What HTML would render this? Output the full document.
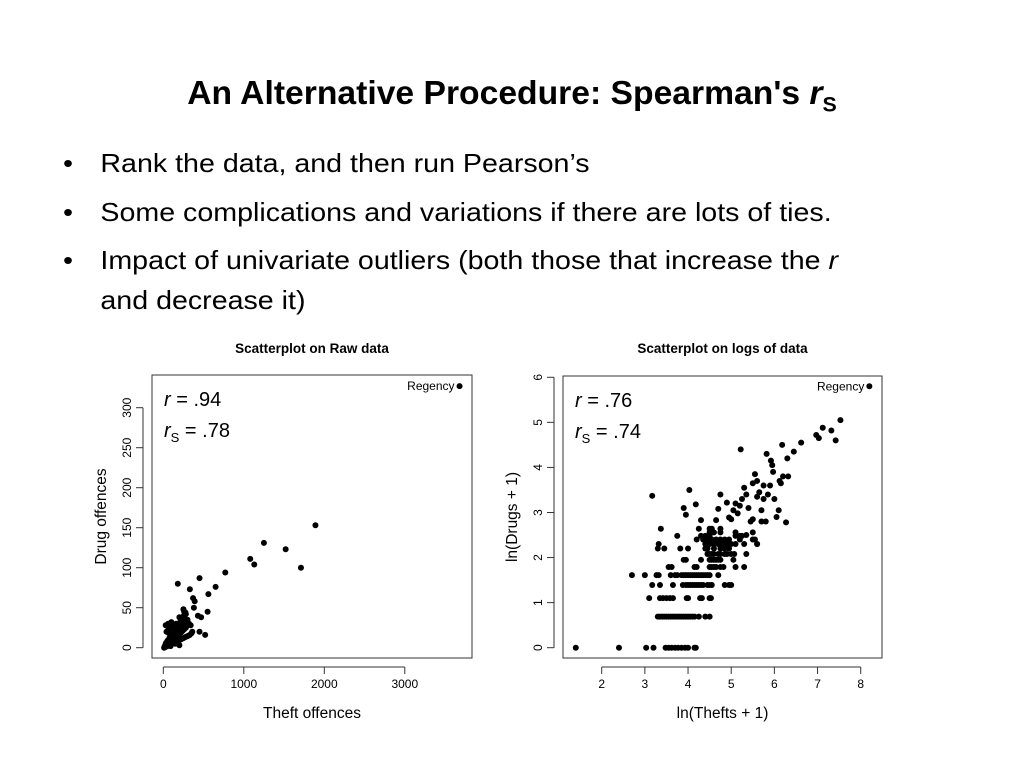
<!DOCTYPE html>
<html><head><meta charset="utf-8"><style>
body{margin:0;width:1024px;height:768px;background:#fff;overflow:hidden;font-family:"Liberation Sans",sans-serif}
#title{position:absolute;top:74px;left:0;width:1024px;text-align:center;font-weight:bold;font-size:33px;transform:scaleX(1.02);}
.b{position:absolute;left:63px;font-size:26px;transform-origin:left;transform:scaleX(1.1);white-space:nowrap}
.b span.d{display:inline-block;width:34px}
svg{position:absolute;left:0;top:0}
</style></head><body>
<div id="title">An Alternative Procedure: Spearman's <i>r</i><sub style="font-size:21px">S</sub></div>
<div class="b" style="top:148px"><span class="d">•</span>Rank the data, and then run Pearson’s</div>
<div class="b" style="top:197px"><span class="d">•</span>Some complications and variations if there are lots of ties.</div>
<div class="b" style="top:245px"><span class="d">•</span>Impact of univariate outliers (both those that increase the <i>r</i></div>
<div class="b" style="top:285px"><span class="d"></span>and decrease it)</div>
<svg id="s" width="1024" height="768"></svg>
<script>
const rawX=[3680,180,450,330,370,390,380,650,560,550,770,1080,1130,1250,1520,1710,1890,520,450,430,470,
20,30,40,50,60,70,80,90,100,110,120,130,140,150,160,170,180,190,200,210,220,230,240,250,260,270,280,290,300,
15,25,35,45,55,65,75,85,95,105,115,125,135,145,155,165,175,185,195,205,215,225,235,245,255,265,275,300,320,340,
10,30,50,70,90,110,130,150,170,190,210,230,250,270,290,310,330,350,360,250,260,280,200,60,100,
40,80,120,160,60,100,140,30,70,150,200,90];
const rawY=[327,80,87,73,62,58,50,76,67,45,94,111,104,131,123,100,153,16,20,40,38,
2,5,3,8,4,10,6,12,9,14,7,16,11,18,13,20,15,22,17,24,19,26,21,28,23,30,25,27,33,
1,3,6,2,9,5,12,7,15,10,18,12,22,14,25,16,28,19,30,22,34,25,36,28,40,31,44,35,30,28,
0,1,2,3,4,5,6,7,8,9,10,11,12,13,14,15,16,18,20,48,45,42,38,30,32,
20,25,15,30,22,28,10,28,18,5,3,2];
const rawXTicks=[0,1000,2000,3000];
const rawYTicks=[0,50,100,150,200,250,300];
const logX=[8.2,1.4,2.4,3.03,3.2,3.48,3.55,3.62,3.7,3.77,3.85,3.93,4.0,4.15,4.18,
3.3,3.35,3.4,3.45,3.5,3.55,3.6,3.65,3.7,3.75,3.8,3.85,3.9,3.95,4.0,4.05,4.1,4.15,4.25,4.4,4.5,
3.1,3.35,3.42,3.5,3.58,3.65,3.97,4.0,4.28,4.32,4.5,4.53,
3.17,3.35,3.65,3.88,3.95,4.0,4.05,4.1,4.15,4.2,4.25,4.3,4.35,4.45,4.5,4.55,4.85,4.95,5.0,
2.7,3.0,3.27,3.32,3.6,3.7,3.75,3.85,3.9,3.95,4.0,4.05,4.1,4.15,4.2,4.25,4.3,4.35,4.4,4.45,4.5,4.7,
3.55,3.62,4.15,4.2,4.5,4.55,4.6,4.65,4.75,4.82,5.1,5.3,
3.9,3.95,4.3,4.5,4.55,4.6,4.65,4.7,4.75,5.05,
4.45,4.5,4.55,4.6,4.7,4.75,4.85,4.9,5.0,5.07,5.35,
3.3,3.45,3.82,4.0,4.4,4.45,4.6,4.75,4.85,4.95,
3.32,4.4,4.5,4.6,4.7,4.8,4.9,5.0,5.1,5.3,5.6,
4.2,4.35,4.45,4.55,4.65,4.75,4.85,4.95,5.2,5.5,5.55,
3.75,4.3,4.4,4.5,5.1,5.2,5.25,
4.5,4.6,4.75,5.1,5.5,
3.37,4.25,4.5,4.55,4.75,
3.17,4.03,4.18,3.9,3.95,4.3,4.65,4.7,4.75,4.9,4.95,5.0,5.05,5.1,5.15,5.2,5.25,5.3,5.35,5.4,5.45,5.5,5.55,5.6,5.65,5.7,5.75,5.8,5.85,5.9,5.92,5.95,5.97,6.0,6.05,6.1,6.12,6.15,6.18,6.2,6.27,6.3,6.32,6.45,6.62,5.22,5.82,6.97,7.03,7.12,7.32,7.42,7.53,5.5,5.6,5.35,5.6,5.7,5.75];
const logY=[5.8,0,0,0,0,0,0,0,0,0,0,0,0,0,0,
0.69,0.69,0.69,0.69,0.69,0.69,0.69,0.69,0.69,0.69,0.69,0.69,0.69,0.69,0.69,0.69,0.69,0.69,0.69,0.69,0.69,
1.1,1.1,1.1,1.1,1.1,1.1,1.1,1.1,1.1,1.1,1.1,1.1,
1.39,1.39,1.39,1.39,1.39,1.39,1.39,1.39,1.39,1.39,1.39,1.39,1.39,1.39,1.39,1.39,1.39,1.39,1.39,
1.61,1.61,1.61,1.61,1.61,1.61,1.61,1.61,1.61,1.61,1.61,1.61,1.61,1.61,1.61,1.61,1.61,1.61,1.61,1.61,1.61,1.61,
1.79,1.79,1.79,1.79,1.79,1.79,1.79,1.79,1.79,1.79,1.79,1.79,
1.95,1.95,1.95,1.95,1.95,1.95,1.95,1.95,1.95,1.95,
2.08,2.08,2.08,2.08,2.08,2.08,2.08,2.08,2.08,2.08,2.08,
2.2,2.2,2.2,2.2,2.2,2.2,2.2,2.2,2.2,2.2,
2.3,2.3,2.3,2.3,2.3,2.3,2.3,2.3,2.3,2.3,2.3,
2.4,2.4,2.4,2.4,2.4,2.4,2.4,2.4,2.4,2.4,2.4,
2.48,2.48,2.48,2.48,2.48,2.48,2.48,
2.56,2.56,2.56,2.56,2.56,
2.64,2.64,2.64,2.64,2.64,
3.37,3.5,3.18,3.1,2.95,2.83,2.83,3.08,3.4,3.22,2.89,2.85,3.05,3.2,2.98,3.15,3.3,3.55,3.4,3.1,2.8,2.85,3.85,3.7,3.45,3.05,3.6,2.8,3.4,3.6,4.15,4.05,3.9,3.3,2.9,3.05,3.7,3.65,4.5,3.8,2.78,4.2,3.8,4.35,4.55,4.4,4.3,4.72,4.65,4.88,4.82,4.6,5.05,3.65,3.35,2.5,2.3,2.8,3.3];
const logXTicks=[2,3,4,5,6,7,8];
const logYTicks=[0,1,2,3,4,5,6];
const NS='http://www.w3.org/2000/svg', svg=document.getElementById('s');
function mk(t,a,txt){const e=document.createElementNS(NS,t);for(const k in a)e.setAttribute(k,a[k]);if(txt!=null)e.textContent=txt;svg.appendChild(e);return e;}
function plot(o){
 const sx=v=>o.x0+(v-o.xa)*o.kx, sy=v=>o.y0-(v-o.ya)*o.ky;
 let e=mk('text',{x:(o.bx1+o.bx2)/2,y:353,'text-anchor':'middle','font-size':13.5,'font-weight':'bold'},o.title);
 
 
 e=mk('rect',{x:o.bx1,y:o.by1,width:o.bx2-o.bx1,height:o.by2-o.by1,fill:'none',stroke:'#333','stroke-width':1});
 
 
 mk('line',{x1:sx(o.xt[0]),x2:sx(o.xt[o.xt.length-1]),y1:o.by2+9,y2:o.by2+9,stroke:'#333'});
 o.xt.forEach(t=>{mk('line',{x1:sx(t),x2:sx(t),y1:o.by2+9,y2:o.by2+16,stroke:'#333'});
  e=mk('text',{x:sx(t),y:o.by2+30,'text-anchor':'middle','font-size':12},t);
  
  });
 mk('line',{x1:o.bx1-9,x2:o.bx1-9,y1:sy(o.yt[0]),y2:sy(o.yt[o.yt.length-1]),stroke:'#333'});
 o.yt.forEach(t=>{mk('line',{x1:o.bx1-9,x2:o.bx1-16,y1:sy(t),y2:sy(t),stroke:'#333'});
  const X=o.bx1-21,Y=sy(t);
  e=mk('text',{x:X,y:Y,'text-anchor':'middle','font-size':12,transform:`rotate(-90 ${X} ${Y})`},t);
  
  });
 e=mk('text',{x:(o.bx1+o.bx2)/2,y:o.by2+60,'text-anchor':'middle','font-size':15.5},o.xl);
 
 
 const X=o.bx1-46,Y=(o.by1+o.by2)/2;
 e=mk('text',{x:X,y:Y,'text-anchor':'middle','font-size':15.5,transform:`rotate(-90 ${X} ${Y})`},o.yl);
 
 
 o.px.forEach((v,i)=>{e=mk('circle',{cx:sx(v),cy:sy(o.py[i]),r:3,fill:'#000'});
  
  });
 e=mk('text',{x:sx(o.px[0])-5,y:sy(o.py[0])+4,'text-anchor':'end','font-size':12},'Regency');
 
 
 e=mk('text',{x:o.bx1+12,y:o.by1+31,'font-size':20});
 e.innerHTML='<tspan font-style="italic">r</tspan> = '+o.r;
 
 
 e=mk('text',{x:o.bx1+12,y:o.by1+62,'font-size':20});
 e.innerHTML='<tspan font-style="italic">r</tspan><tspan font-size="13" dy="5">S</tspan><tspan dy="-5"> = '+o.rs+'</tspan>';
 
 
}
plot({id:'raw',title:'Scatterplot on Raw data',bx1:152,bx2:472,by1:375,by2:658,x0:163.3,xa:0,kx:0.0805,y0:647.7,ya:0,ky:0.8,
 xt:rawXTicks,yt:rawYTicks,xl:'Theft offences',yl:'Drug offences',px:rawX,py:rawY,r:'.94',rs:'.78'});
plot({id:'log',title:'Scatterplot on logs of data',bx1:563,bx2:882,by1:376,by2:658,x0:601.7,xa:2,kx:43.17,y0:647.7,ya:0,ky:45.07,
 xt:logXTicks,yt:logYTicks,xl:'ln(Thefts + 1)',yl:'ln(Drugs + 1)',px:logX,py:logY,r:'.76',rs:'.74'});
</script>
</body></html>
